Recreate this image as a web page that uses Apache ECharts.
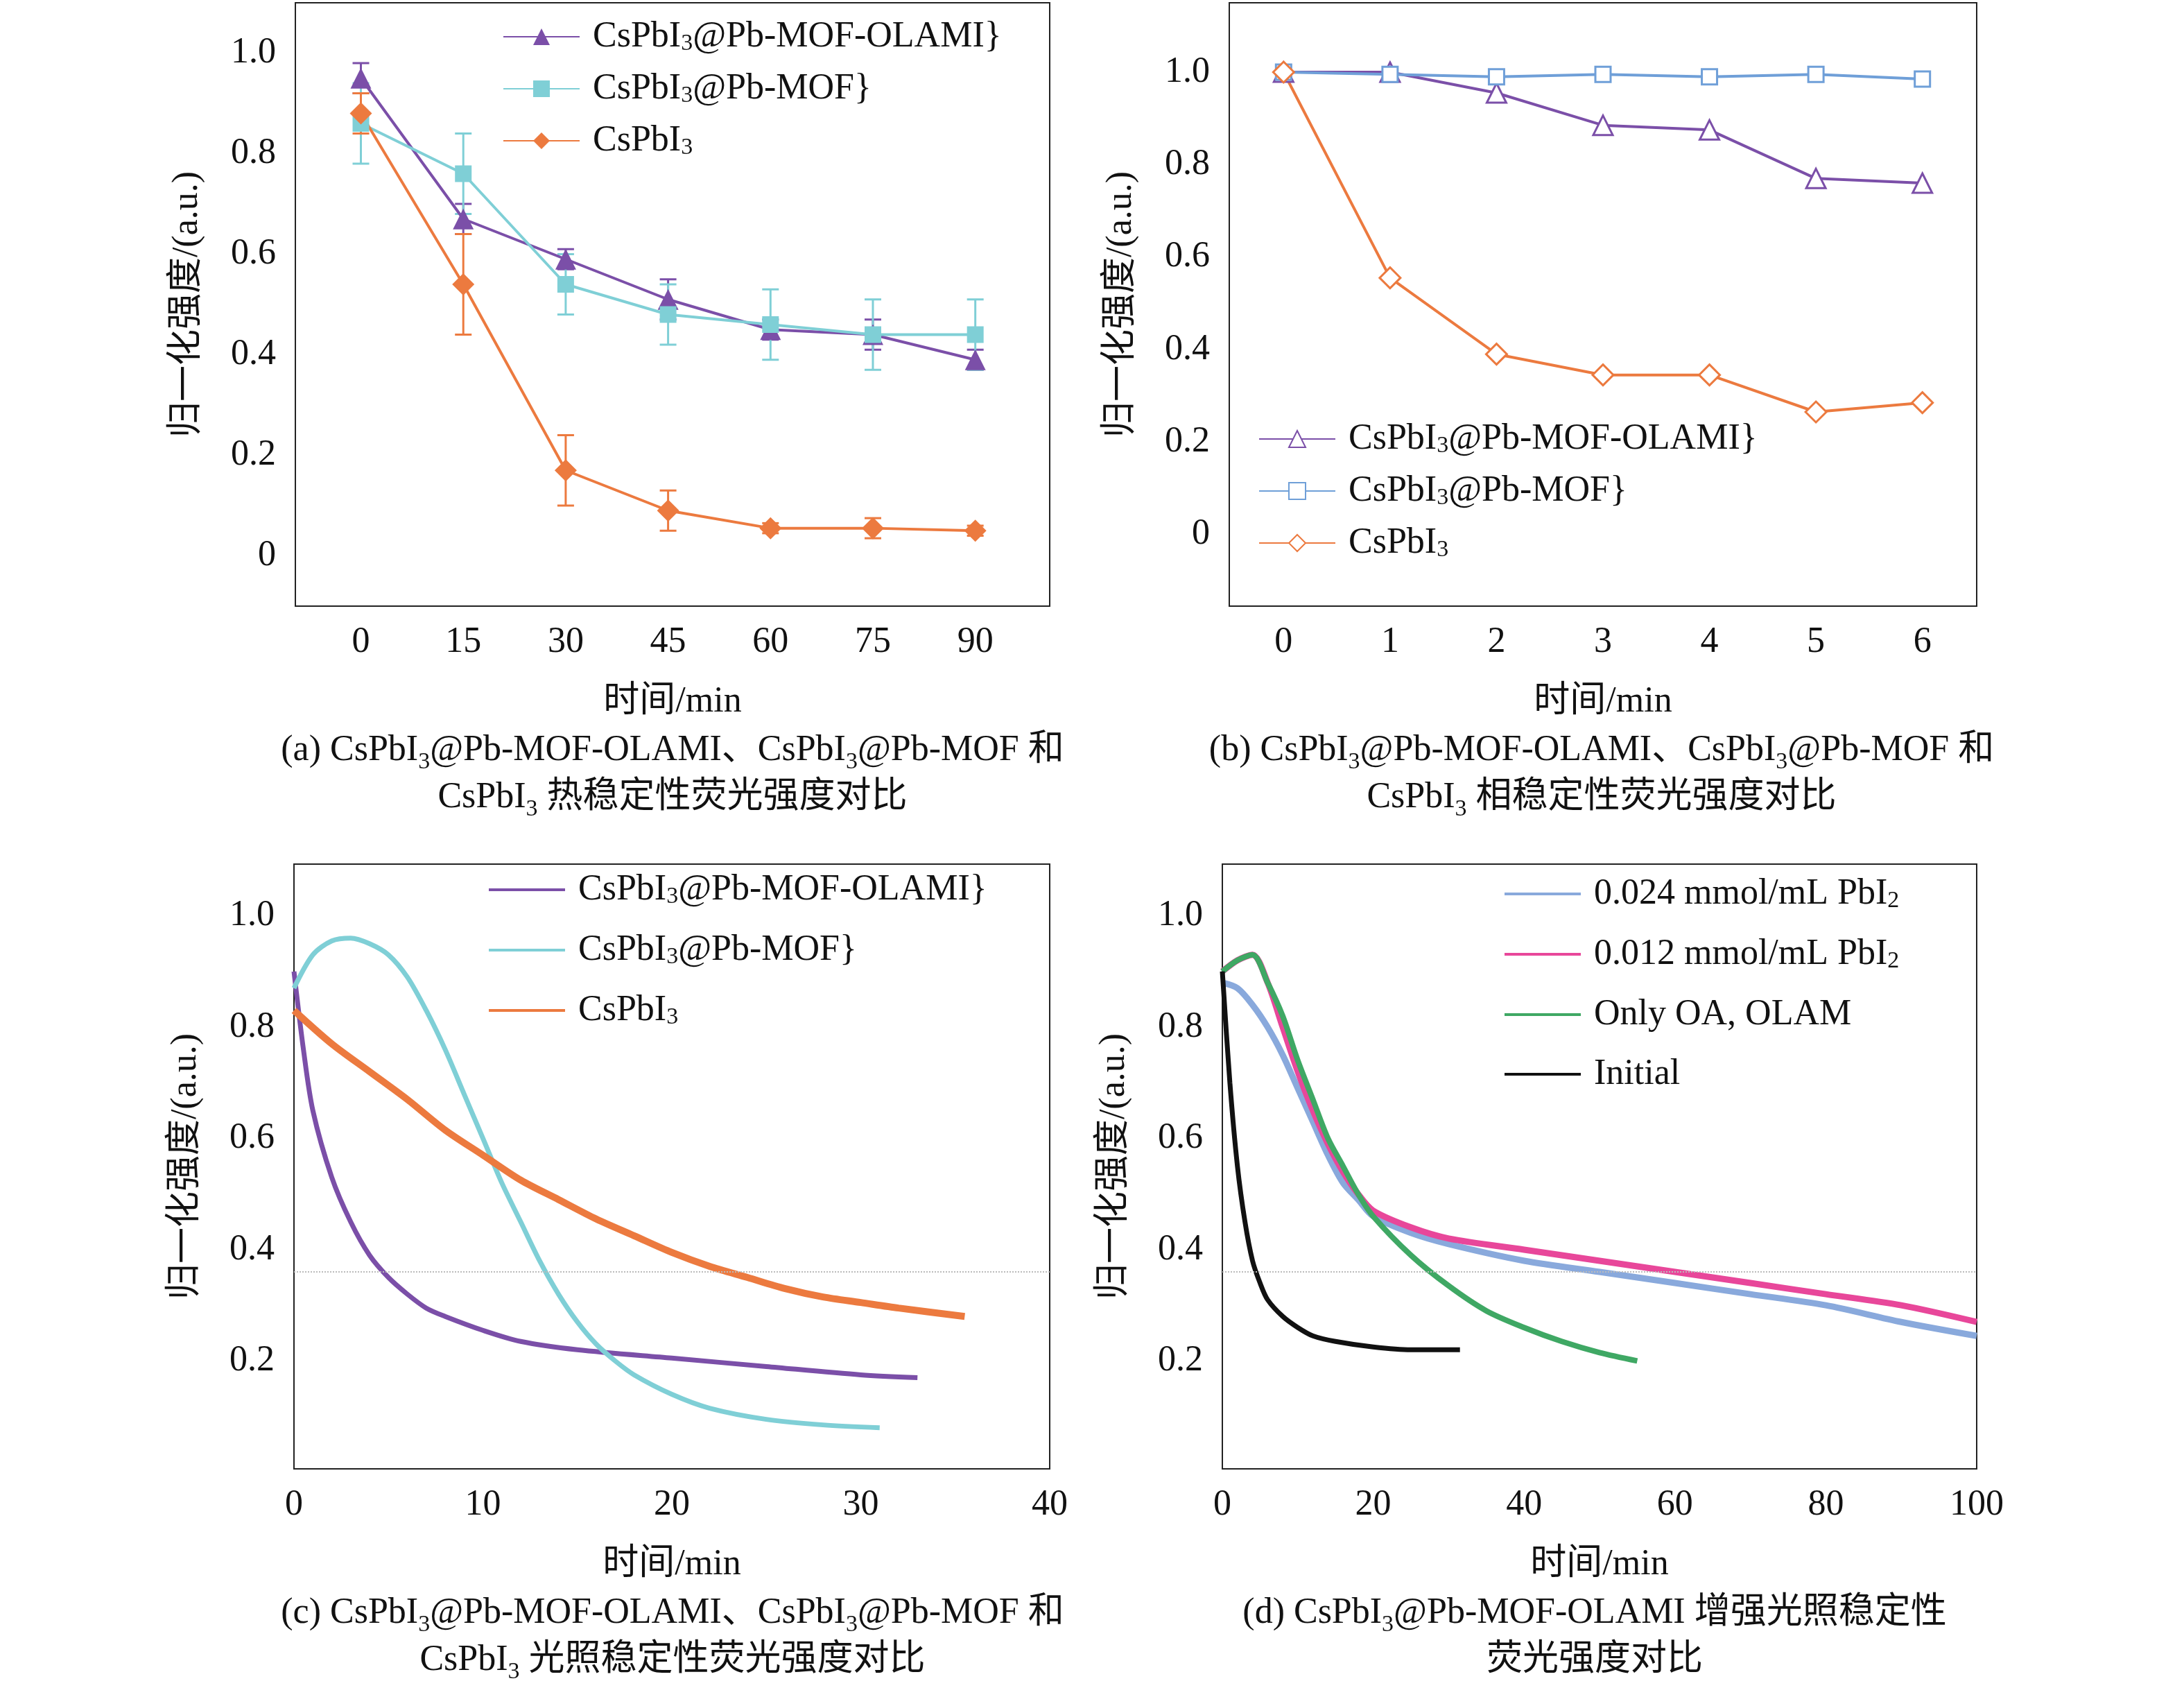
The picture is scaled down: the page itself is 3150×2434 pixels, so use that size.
<!DOCTYPE html>
<html><head><meta charset="utf-8">
<script src="https://cdn.jsdelivr.net/npm/echarts@6/dist/echarts.min.js"></script>
<style>html,body{margin:0;background:#fff}#c{width:3150px;height:2434px}</style>
</head><body><div id="c"></div>
<script>
// ---- data ----
const aX = [0,15,30,45,60,75,90];
const aOlami = [0.95,0.67,0.59,0.51,0.45,0.44,0.39];
const aOlamiErr = [0.03,0.03,0.02,0.04,0.02,0.03,0.02];
const aMof = [0.86,0.76,0.54,0.48,0.46,0.44,0.44];
const aMofErr = [0.08,0.08,0.06,0.06,0.07,0.07,0.07];
const aCs = [0.88,0.54,0.17,0.09,0.055,0.055,0.05];
const aCsErr = [0.04,0.1,0.07,0.04,0.01,0.02,0.01];

const bX = [0,1,2,3,4,5,6];
const bOlami = [1.0,1.0,0.955,0.885,0.875,0.77,0.76];
const bMof = [1.0,0.995,0.99,0.995,0.99,0.995,0.985];
const bCs = [1.0,0.555,0.39,0.345,0.345,0.265,0.285];

const cOlami = [[0,0.9],[0.5,0.76],[1,0.65],[2,0.53],[3,0.45],[4,0.39],[5,0.35],[6,0.32],[7,0.295],[8,0.28],[10,0.255],[12,0.235],[15,0.22],[20,0.205],[25,0.19],[30,0.175],[33,0.17]];
const cMof = [[0,0.87],[1,0.93],[2,0.955],[3,0.96],[4,0.95],[5,0.93],[6,0.89],[7,0.83],[8,0.76],[9,0.68],[10,0.6],[11,0.52],[12,0.45],[13,0.38],[14,0.32],[15,0.27],[16,0.23],[17,0.2],[18,0.175],[20,0.14],[22,0.115],[25,0.095],[28,0.085],[31,0.08]];
const cCs = [[0,0.83],[2,0.77],[4,0.72],[6,0.67],[8,0.615],[10,0.57],[12,0.525],[14,0.49],[16,0.455],[18,0.425],[20,0.395],[22,0.37],[24,0.35],[26,0.33],[28,0.315],[30,0.305],[32,0.295],[35.5,0.28]];

const dBlue = [[0,0.88],[2,0.87],[4,0.84],[6,0.8],[8,0.75],[10,0.69],[12,0.63],[14,0.57],[16,0.52],[18,0.49],[20,0.46],[25,0.43],[30,0.41],[40,0.38],[50,0.36],[60,0.34],[70,0.32],[80,0.3],[90,0.27],[100,0.245]];
const dPink = [[0,0.9],[2,0.92],[4,0.93],[6,0.88],[8,0.8],[10,0.72],[12,0.65],[14,0.59],[16,0.54],[18,0.5],[20,0.47],[25,0.44],[30,0.42],[40,0.4],[50,0.38],[60,0.36],[70,0.34],[80,0.32],[90,0.3],[100,0.27]];
const dGreen = [[0,0.9],[2,0.92],[4,0.93],[6,0.88],[8,0.82],[10,0.74],[12,0.67],[14,0.6],[16,0.55],[18,0.5],[20,0.46],[25,0.39],[30,0.335],[35,0.29],[40,0.26],[45,0.235],[50,0.215],[55,0.2]];
const dBlack = [[0,0.9],[1,0.7],[2,0.55],[3,0.45],[4,0.38],[5,0.34],[6,0.31],[8,0.28],[10,0.26],[12,0.245],[15,0.235],[20,0.225],[25,0.22],[31.5,0.22]];

const yTicksAB = [0,0.2,0.4,0.6,0.8,1.0];
const yTicksCD = [0.2,0.4,0.6,0.8,1.0];
const refLine = 0.365;

// ---- style ----
const FONT = '"Liberation Serif","Noto Sans CJK SC",serif';
const FS = 52;
const purple='#7b4fa8', cyan='#7fcfd6', orange='#ec7a3f', blue='#89a9dc', pink='#e8479a', green='#3fa864', black='#111';
const rich = {n:{fontSize:FS,fontFamily:FONT,color:'#111'},s:{fontSize:34,fontFamily:FONT,color:'#111',verticalAlign:'bottom',padding:[20,0,0,0]}};
const yfmt = v => v===0?'0':v.toFixed(1);

const grids = [
 {left:426,top:4,width:1088,height:870},
 {left:1773,top:4,width:1078,height:870},
 {left:424,top:1246,width:1090,height:872},
 {left:1763,top:1246,width:1088,height:872}
].map(g=>Object.assign(g,{show:true,borderColor:'#222',borderWidth:2,backgroundColor:'transparent'}));

function xAxis(i,min,max,interval,ticks){
  const o={gridIndex:i,type:'value',min,max,splitLine:{show:false},
    axisLine:{show:false},axisTick:{show:false},
    axisLabel:{fontSize:FS,fontFamily:FONT,color:'#111',margin:26},
    name:'时间/min',nameLocation:'middle',nameGap:112,nameTextStyle:{fontSize:FS,fontFamily:FONT,color:'#111'}};
  if(ticks){o.axisLabel.customValues=ticks;}else{o.interval=interval;}
  return o;
}
function yAxis(i,min,max,ticks){
  return {gridIndex:i,type:'value',min,max,splitLine:{show:false},axisLine:{show:false},axisTick:{show:false},
    axisLabel:{customValues:ticks,formatter:yfmt,fontSize:FS,fontFamily:FONT,color:'#111',margin:28},
    name:'归一化强度/(a.u.)',nameLocation:'middle',nameGap:130,nameTextStyle:{fontSize:FS,fontFamily:FONT,color:'#111'}};
}

const series=[];
function errSeries(vals,errs,color){
  series.push({type:'custom',xAxisIndex:0,yAxisIndex:0,z:1,
    data:aX.map((x,k)=>[x,vals[k]-errs[k],vals[k]+errs[k]]),
    renderItem:(p,api)=>{
      const lo=api.coord([api.value(0),api.value(1)]), hi=api.coord([api.value(0),api.value(2)]);
      const w=12, st={stroke:color,lineWidth:3};
      return {type:'group',children:[
        {type:'line',shape:{x1:lo[0],y1:lo[1],x2:hi[0],y2:hi[1]},style:st},
        {type:'line',shape:{x1:lo[0]-w,y1:lo[1],x2:lo[0]+w,y2:lo[1]},style:st},
        {type:'line',shape:{x1:hi[0]-w,y1:hi[1],x2:hi[0]+w,y2:hi[1]},style:st}]};
    }});
}
errSeries(aOlami,aOlamiErr,purple);errSeries(aMof,aMofErr,cyan);errSeries(aCs,aCsErr,orange);
const sub3='CsPbI{s|3}';
function pl(i,name,data,color,sym,size,hollow){
  series.push({type:'line',name,xAxisIndex:i,yAxisIndex:i,data,symbol:sym,symbolSize:size,
    lineStyle:{color,width:4},itemStyle:{color:hollow?'#fff':color,borderColor:color,borderWidth:hollow?3:0},z:3});
}
pl(0,sub3+'@Pb-MOF-OLAMI',aX.map((x,k)=>[x,aOlami[k]]),purple,'triangle',30);
pl(0,sub3+'@Pb-MOF',aX.map((x,k)=>[x,aMof[k]]),cyan,'rect',24);
pl(0,sub3,aX.map((x,k)=>[x,aCs[k]]),orange,'diamond',32);
pl(1,sub3+'@Pb-MOF-OLAMI ',bX.map((x,k)=>[x,bOlami[k]]),purple,'triangle',28,true);
pl(1,sub3+'@Pb-MOF ',bX.map((x,k)=>[x,bMof[k]]),'#6f9fd8','rect',22,true);
pl(1,sub3+' ',bX.map((x,k)=>[x,bCs[k]]),orange,'diamond',30,true);
function nl(i,name,data,color,w){
  series.push({type:'line',name,xAxisIndex:i,yAxisIndex:i,data,symbol:'none',smooth:0.3,
    lineStyle:{color,width:w||7},itemStyle:{color},z:3});
}
nl(2,sub3+'@Pb-MOF-OLAMI  ',cOlami,purple);
nl(2,sub3+'@Pb-MOF  ',cMof,cyan);
nl(2,sub3+'  ',cCs,orange,10);
nl(3,'0.024 mmol/mL PbI{s|2}',dBlue,blue,9);
nl(3,'0.012 mmol/mL PbI{s|2}',dPink,pink,9);
nl(3,'Only OA, OLAM',dGreen,green,8);
nl(3,'Initial',dBlack,black,7);
[2,3].forEach(i=>series.push({type:'line',xAxisIndex:i,yAxisIndex:i,data:[],
  markLine:{silent:true,symbol:'none',label:{show:false},lineStyle:{color:'#bbb',type:'dotted',width:2},data:[{yAxis:refLine}]}}));

function legend(left,top,names,icon,gap){
  return {left,top,orient:'vertical',data:names,itemWidth:110,itemHeight:icon?4:30,itemGap:gap||28,icon,
    formatter:n=>'{n|'+n.trim().replace('{s|','}{s|').replace(/\}$/,'}{n|')+'}',
    textStyle:{fontSize:FS,fontFamily:FONT,color:'#111',padding:[0,0,0,14],rich}};
}

const cap=(x,y,txt)=>({type:'text',x,y,style:{text:txt,fill:'#111',font:FS+'px '+FONT,align:'center',lineHeight:68,rich}});

const option={animation:false,grid:grids,
 xAxis:[xAxis(0,-9.6,100.9,null,aX),xAxis(1,-0.51,6.51,null,bX),xAxis(2,0,40,10),xAxis(3,0,100,20)],
 yAxis:[yAxis(0,-0.1,1.1,yTicksAB),yAxis(1,-0.155,1.15,yTicksAB),yAxis(2,0.006,1.093,yTicksCD),yAxis(3,0.006,1.093,yTicksCD)],
 legend:[legend(720,22,[sub3+'@Pb-MOF-OLAMI',sub3+'@Pb-MOF',sub3],null,22),
   legend(1810,602,[sub3+'@Pb-MOF-OLAMI ',sub3+'@Pb-MOF ',sub3+' '],null,22),
   legend(700,1252,[sub3+'@Pb-MOF-OLAMI  ',sub3+'@Pb-MOF  ',sub3+'  '],'rect',34),
   legend(2165,1258,['0.024 mmol/mL PbI{s|2}','0.012 mmol/mL PbI{s|2}','Only OA, OLAM','Initial'],'rect',34)],
 series,
 graphic:[
  cap(970,1048,'(a) '+sub3+'@Pb-MOF-OLAMI、'+sub3+'@Pb-MOF 和\n'+sub3+' 热稳定性荧光强度对比'),
  cap(2310,1048,'(b) '+sub3+'@Pb-MOF-OLAMI、'+sub3+'@Pb-MOF 和\n'+sub3+' 相稳定性荧光强度对比'),
  cap(970,2292,'(c) '+sub3+'@Pb-MOF-OLAMI、'+sub3+'@Pb-MOF 和\n'+sub3+' 光照稳定性荧光强度对比'),
  cap(2300,2292,'(d) '+sub3+'@Pb-MOF-OLAMI 增强光照稳定性\n荧光强度对比')
 ]};
echarts.init(document.getElementById('c')).setOption(option);
</script></body></html>
